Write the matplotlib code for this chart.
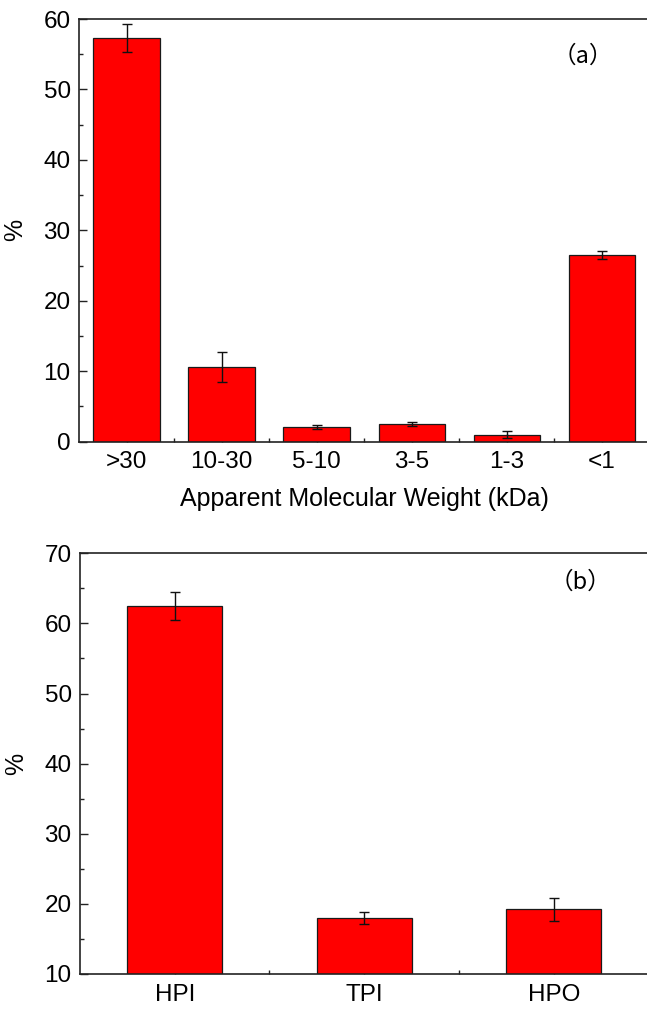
import matplotlib
matplotlib.use("Agg")
import matplotlib.pyplot as plt
from matplotlib.ticker import FixedLocator, MultipleLocator

# Panel (a): apparent molecular weight distribution
mw_labels = [">30", "10-30", "5-10", "3-5", "1-3", "<1"]
mw_values = [57.3, 10.6, 2.1, 2.5, 1.0, 26.5]
mw_errors = [2.0, 2.1, 0.25, 0.3, 0.5, 0.5]

# Panel (b): hydrophilic / transphilic / hydrophobic fractions
frac_labels = ["HPI", "TPI", "HPO"]
frac_values = [62.5, 18.0, 19.2]
frac_errors = [1.95, 0.8, 1.6]

plt.rcParams["font.family"] = ["Liberation Sans", "DejaVu Sans"]
TICK_FS = 17.5
LABEL_FS = 18

W, H = 647, 1009
fig = plt.figure(figsize=(W / 100, H / 100), dpi=100)


def px_axes(left, top, right, bottom):
    return fig.add_axes([left / W, 1 - bottom / H, (right - left) / W, (bottom - top) / H])


def style(ax, n, ylim, ymajor):
    for s in ax.spines.values():
        s.set_linewidth(1.2)
        s.set_color("#222222")
    ax.set_xlim(0.5, n + 0.5)
    ax.set_ylim(*ylim)
    ax.xaxis.set_major_locator(FixedLocator(range(1, n + 1)))
    ax.xaxis.set_minor_locator(FixedLocator([i + 0.5 for i in range(1, n)]))
    ax.yaxis.set_major_locator(MultipleLocator(ymajor))
    ax.yaxis.set_minor_locator(MultipleLocator(ymajor / 2))
    ax.tick_params(which="both", direction="in", top=False, right=False,
                   width=1.0, color="#222222", labelsize=TICK_FS)
    ax.tick_params(which="major", length=6)
    ax.tick_params(which="minor", length=3)
    ax.tick_params(axis="x", which="major", pad=7)
    ax.tick_params(axis="y", which="major", pad=6)


# ---- panel (a)
ax1 = px_axes(79, 19, 649.5, 441.7)
x1 = list(range(1, len(mw_labels) + 1))
ax1.bar(x1, mw_values, width=0.7, color="#ff0000", edgecolor="#1a1a1a",
        linewidth=0.9, zorder=2)
ax1.errorbar(x1, mw_values, yerr=mw_errors, fmt="none", ecolor="#111111",
             elinewidth=1.0, capsize=3.3, capthick=1.0, zorder=3)
style(ax1, len(mw_labels), (0, 60), 10)
ax1.set_xticklabels(mw_labels)
ax1.set_xlabel("Apparent Molecular Weight (kDa)", fontsize=LABEL_FS, labelpad=10)
ax1.set_ylabel("%", fontsize=LABEL_FS, labelpad=12)
ax1.text(583 / W, 1 - 56 / H, "（a）", transform=fig.transFigure,
         family=["Noto Sans CJK SC", "DejaVu Sans"], fontsize=17,
         ha="center", va="center")

# ---- panel (b)
ax2 = px_axes(80, 553.3, 648.5, 974)
x2 = list(range(1, len(frac_labels) + 1))
ax2.bar(x2, frac_values, width=0.5, color="#ff0000", edgecolor="#1a1a1a",
        linewidth=0.9, zorder=2)
ax2.errorbar(x2, frac_values, yerr=frac_errors, fmt="none", ecolor="#111111",
             elinewidth=1.0, capsize=3.3, capthick=1.0, zorder=3)
style(ax2, len(frac_labels), (10, 70), 10)
ax2.set_xticklabels(frac_labels)
ax2.set_ylabel("%", fontsize=LABEL_FS, labelpad=12)
ax2.text(580 / W, 1 - 582 / H, "（b）", transform=fig.transFigure,
         family=["Noto Sans CJK SC", "DejaVu Sans"], fontsize=17,
         ha="center", va="center")

fig.savefig("out.png", dpi=100)
